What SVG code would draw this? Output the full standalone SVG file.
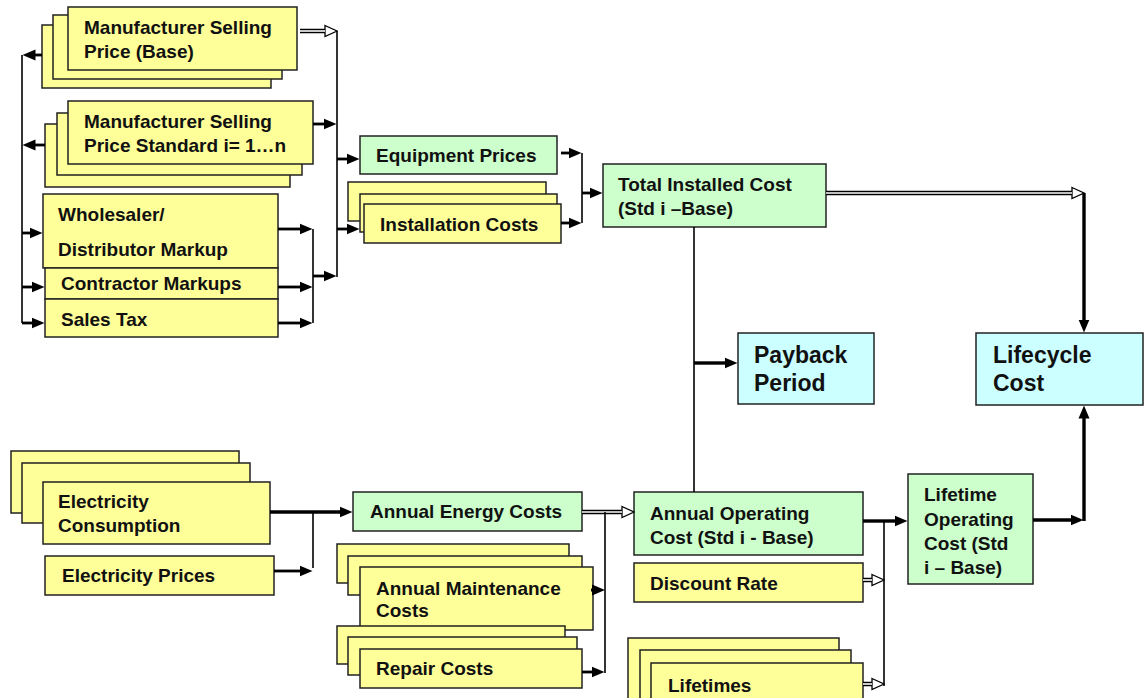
<svg xmlns="http://www.w3.org/2000/svg" width="1144" height="698" viewBox="0 0 1144 698">
<style>
.y{fill:#FFFF99;stroke:#222;stroke-width:1.5}
.g{fill:#CCFFCC;stroke:#222;stroke-width:1.5}
.c{fill:#CCFFFF;stroke:#222;stroke-width:1.5}
.t{font-family:"Liberation Sans",Arial,sans-serif;font-weight:bold;font-size:19px;fill:#111}
.big{font-size:23px}
.thin{stroke:#000;stroke-width:1.6;fill:none}
.arr{stroke:#000;stroke-width:2.8;fill:none;marker-end:url(#fa)}
.thk{stroke:#000;stroke-width:3.4;fill:none;marker-end:url(#fa)}
.dbo{stroke:#000;stroke-width:4.5;fill:none;marker-end:url(#ha)}
.dbi{stroke:#fff;stroke-width:1.6;fill:none}
</style>
<defs>
<marker id="fa" markerUnits="userSpaceOnUse" markerWidth="14" markerHeight="12" viewBox="0 0 14 12" refX="0.5" refY="6" orient="auto">
<path d="M0,0.5 L13,6 L0,11.5 z" fill="#000"/>
</marker>
<marker id="ha" markerUnits="userSpaceOnUse" markerWidth="14" markerHeight="14" viewBox="-1 -1 14 14" refX="0" refY="6" orient="auto">
<path d="M0,0.5 L12,6 L0,11.5 z" fill="#fff" stroke="#000" stroke-width="1.3"/>
</marker>
</defs>

<g id="msp-base">
<rect class="y" x="42" y="25" width="229" height="63"/>
<rect class="y" x="53" y="15" width="229" height="64"/>
<rect class="y" x="68" y="7" width="229" height="63"/>
<text class="t" x="84" y="34">Manufacturer Selling</text>
<text class="t" x="84" y="58">Price (Base)</text>
</g>
<g id="msp-std">
<rect class="y" x="45" y="124" width="245" height="63"/>
<rect class="y" x="57" y="113" width="245" height="62"/>
<rect class="y" x="68" y="101" width="245" height="63"/>
<text class="t" x="84" y="128">Manufacturer Selling</text>
<text class="t" x="84" y="152">Price Standard i= 1…n</text>
</g>
<g id="wholesaler">
<rect class="y" x="43" y="194" width="235" height="74"/>
<text class="t" x="58" y="221">Wholesaler/</text>
<text class="t" x="58" y="256">Distributor Markup</text>
</g>
<g id="contractor">
<rect class="y" x="45" y="268" width="233" height="31"/>
<text class="t" x="61" y="290">Contractor Markups</text>
</g>
<g id="salestax">
<rect class="y" x="45" y="299" width="233" height="38"/>
<text class="t" x="61" y="326">Sales Tax</text>
</g>
<g id="equipment">
<rect class="g" x="360" y="136" width="197" height="38"/>
<text class="t" x="376" y="162">Equipment Prices</text>
</g>
<g id="installation">
<rect class="y" x="348" y="182" width="198" height="39"/>
<rect class="y" x="360" y="194" width="197" height="38"/>
<rect class="y" x="364" y="204" width="197" height="39"/>
<text class="t" x="380" y="231">Installation Costs</text>
</g>
<g id="tic">
<rect class="g" x="603" y="164" width="223" height="63"/>
<text class="t" x="618" y="191">Total Installed Cost</text>
<text class="t" x="618" y="215">(Std i –Base)</text>
</g>
<g id="payback">
<rect class="c" x="738" y="333" width="136" height="71"/>
<text class="t big" x="754" y="363">Payback</text>
<text class="t big" x="754" y="391">Period</text>
</g>
<g id="lifecycle">
<rect class="c" x="976" y="333" width="167" height="72"/>
<text class="t big" x="993" y="363">Lifecycle</text>
<text class="t big" x="993" y="391">Cost</text>
</g>
<g id="elec-cons">
<rect class="y" x="11" y="451" width="228" height="62"/>
<rect class="y" x="22" y="463" width="228" height="60"/>
<rect class="y" x="43" y="482" width="227" height="62"/>
<text class="t" x="58" y="508">Electricity</text>
<text class="t" x="58" y="532">Consumption</text>
</g>
<g id="elec-prices">
<rect class="y" x="45" y="556" width="229" height="39"/>
<text class="t" x="62" y="582">Electricity Prices</text>
</g>
<g id="aec">
<rect class="g" x="353" y="492" width="229" height="39"/>
<text class="t" x="370" y="518">Annual Energy Costs</text>
</g>
<g id="maintenance">
<rect class="y" x="337" y="544" width="232" height="39"/>
<rect class="y" x="348" y="556" width="234" height="39"/>
<rect class="y" x="360" y="567" width="233" height="63"/>
<text class="t" x="376" y="595">Annual Maintenance</text>
<text class="t" x="376" y="617">Costs</text>
</g>
<g id="repair">
<rect class="y" x="337" y="626" width="228" height="38"/>
<rect class="y" x="348" y="637" width="229" height="38"/>
<rect class="y" x="360" y="649" width="222" height="39"/>
<text class="t" x="376" y="675">Repair Costs</text>
</g>
<g id="aoc">
<rect class="g" x="634" y="492" width="229" height="63"/>
<text class="t" x="650" y="520">Annual Operating</text>
<text class="t" x="650" y="544">Cost (Std i - Base)</text>
</g>
<g id="discount">
<rect class="y" x="634" y="563" width="229" height="39"/>
<text class="t" x="650" y="590">Discount Rate</text>
</g>
<g id="lifetimes">
<rect class="y" x="628" y="638" width="211" height="70"/>
<rect class="y" x="640" y="650" width="211" height="60"/>
<rect class="y" x="651" y="663" width="212" height="50"/>
<text class="t" x="668" y="692">Lifetimes</text>
</g>
<g id="loc">
<rect class="g" x="908" y="474" width="125" height="110"/>
<text class="t" x="924" y="501">Lifetime</text>
<text class="t" x="924" y="526">Operating</text>
<text class="t" x="924" y="550">Cost (Std</text>
<text class="t" x="924" y="574">i – Base)</text>
</g>

<g id="connectors">
<path class="thin" d="M22,55 V323"/>
<path class="arr" d="M42,55 H35"/>
<path class="arr" d="M45,145 H35"/>
<path class="arr" d="M22,233 H30"/>
<path class="arr" d="M22,287 H32"/>
<path class="arr" d="M22,323 H32"/>
<path class="dbo" d="M300,31 H325"/><path class="dbi" d="M300,31 H325"/>
<path class="thin" d="M337,31 V277"/>
<path class="arr" d="M313,124 H324"/>
<path class="arr" d="M337,159 H347"/>
<path class="arr" d="M337,229 H347"/>
<path class="thin" d="M313,229 V323"/>
<path class="arr" d="M278,229 H300"/>
<path class="arr" d="M278,287 H300"/>
<path class="arr" d="M278,323 H300"/>
<path class="arr" d="M313,276 H324"/>
<path class="arr" d="M561,153 H569"/>
<path class="arr" d="M561,223 H569"/>
<path class="thin" d="M582,153 V223"/>
<path class="arr" d="M582,193 H590"/>
<path class="dbo" d="M826,193 H1072"/><path class="dbi" d="M826,193 H1072"/>
<path class="thk" d="M1084,193 V320"/>
<path class="thin" d="M694,227 V492"/>
<path class="thk" d="M694,363 H725"/>
<path class="thk" d="M270,512 H340"/>
<path class="thin" d="M313,512 V568"/>
<path class="arr" d="M274,571 H300"/>
<path class="dbo" d="M582,512 H622"/><path class="dbi" d="M582,512 H622"/>
<path class="thin" d="M605,512 V673"/>
<path class="arr" d="M591,590 H592.5"/>
<path class="arr" d="M582,672 H592"/>
<path class="thk" d="M863,521 H895"/>
<path class="thin" d="M884,521 V686"/>
<path class="dbo" d="M863,580 H872"/><path class="dbi" d="M863,580 H872"/>
<path class="dbo" d="M863,684 H872"/><path class="dbi" d="M863,684 H872"/>
<path class="thk" d="M1033,520 H1071"/>
<path class="thk" d="M1084,521 V418"/>
</g>
</svg>
